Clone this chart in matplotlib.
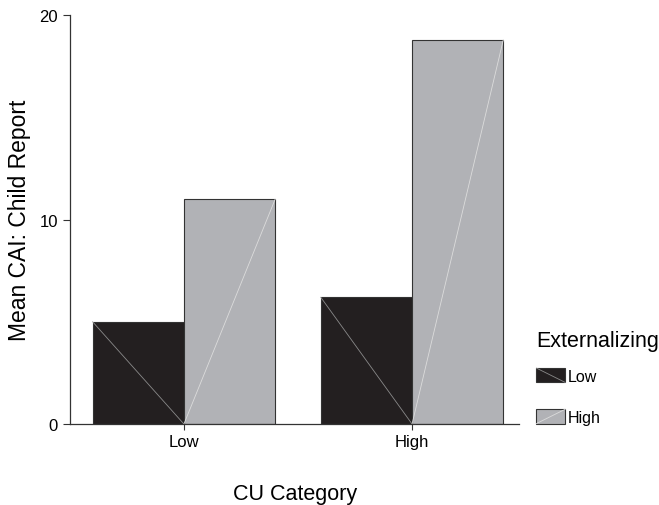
import numpy as np
import matplotlib.pyplot as plt
from matplotlib.patches import Rectangle
from matplotlib.lines import Line2D
from matplotlib.legend_handler import HandlerPatch

plt.rcParams['font.family'] = ['Liberation Sans', 'DejaVu Sans']

# data
cu_categories = ['Low', 'High']
ext_levels = ['Low', 'High']
means_ext_low = [5.0, 6.2]
means_ext_high = [11.0, 18.8]

bar_colors = ['#231f20', '#b1b2b6']
diag_colors = ['#8a8a8a', '#dcdcdc']


class DiagHandler(HandlerPatch):
    # legend key: filled box with the same diagonal line as the bars
    def __init__(self, diag_color, rising, **kw):
        super().__init__(**kw)
        self.diag_color = diag_color
        self.rising = rising

    def create_artists(self, legend, orig_handle, xdescent, ydescent,
                       width, height, fontsize, trans):
        x0, y0 = -xdescent, -ydescent
        rect = Rectangle((x0, y0), width, height,
                         facecolor=orig_handle.get_facecolor(),
                         edgecolor='#333333', linewidth=0.8, transform=trans)
        if self.rising:
            ys = [y0, y0 + height]
        else:
            ys = [y0 + height, y0]
        line = Line2D([x0, x0 + width], ys, color=self.diag_color,
                      linewidth=0.6, transform=trans)
        return [rect, line]


fig = plt.figure(figsize=(6.59, 5.06), dpi=100)
ax = fig.add_axes([0.106, 0.160, 0.682, 0.808])

x = np.arange(len(cu_categories))
width = 0.4

bars_low = ax.bar(x - width / 2, means_ext_low, width, color=bar_colors[0],
                  edgecolor='#333333', linewidth=0.8, label=ext_levels[0])
bars_high = ax.bar(x + width / 2, means_ext_high, width, color=bar_colors[1],
                   edgecolor='#333333', linewidth=0.8, label=ext_levels[1])

# thin diagonal lines inside the bars
for b in bars_low:
    ax.plot([b.get_x(), b.get_x() + b.get_width()], [b.get_height(), 0],
            color=diag_colors[0], linewidth=0.6)
for b in bars_high:
    ax.plot([b.get_x(), b.get_x() + b.get_width()], [0, b.get_height()],
            color=diag_colors[1], linewidth=0.6)

ax.set_xlim(-0.5, 1.47)
ax.set_ylim(0, 20)
ax.set_yticks([0, 10, 20])
ax.set_xticks(x)
ax.set_xticklabels(cu_categories)
ax.tick_params(axis='both', labelsize=12, length=5, width=0.8, color='#333333')
ax.tick_params(axis='x', length=4)

for side in ['top', 'right']:
    ax.spines[side].set_visible(False)
for side in ['left', 'bottom']:
    ax.spines[side].set_color('#333333')
    ax.spines[side].set_linewidth(0.9)

ax.set_ylabel('Mean CAI: Child Report', fontsize=16.5, labelpad=6)
ax.set_xlabel('CU Category', fontsize=15.5, labelpad=24)

h_low = bars_low.patches[0]
h_high = bars_high.patches[0]
leg = fig.legend(handles=[h_low, h_high], labels=ext_levels,
                 title='Externalizing', loc='upper left',
                 bbox_to_anchor=(0.814, 0.345), frameon=False,
                 borderaxespad=0, borderpad=0,
                 fontsize=11.5, title_fontsize=15.5, handlelength=1.8,
                 handleheight=1.0, handletextpad=0.15, labelspacing=1.6,
                 alignment='left',
                 handler_map={h_low: DiagHandler(diag_colors[0], False),
                              h_high: DiagHandler(diag_colors[1], True)})
leg._legend_box.sep = 12

fig.savefig('out.png', dpi=100)
